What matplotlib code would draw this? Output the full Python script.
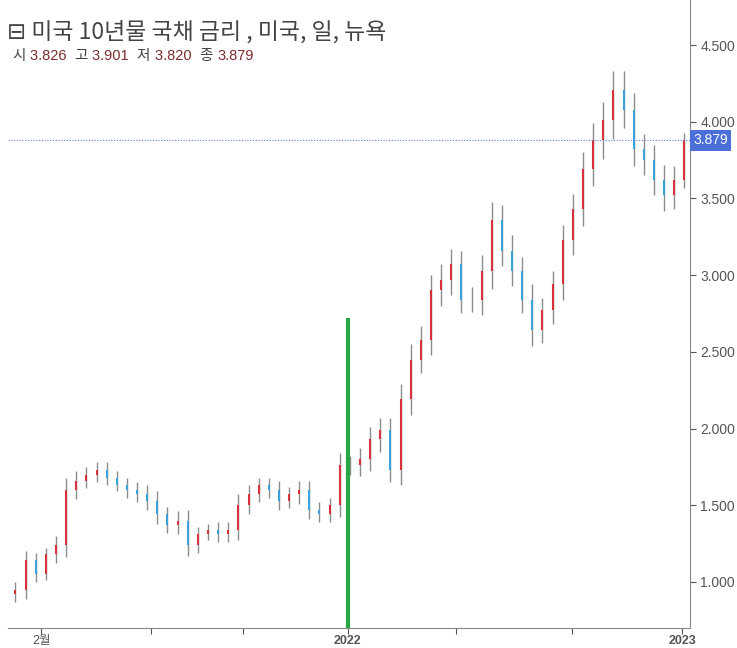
import matplotlib
matplotlib.use("Agg")
import matplotlib.pyplot as plt
import matplotlib.dates as mdates
import numpy as np
import pandas as pd

plt.rcParams['font.family'] = ['Liberation Sans', 'Noto Sans CJK KR']

closes = [0.95,1.14,1.05,1.18,1.24,1.60,1.66,1.70,1.73,1.68,1.63,1.60,1.57,1.53,1.44,1.37,
          1.40,1.24,1.31,1.34,1.31,1.34,1.50,1.57,1.63,1.60,1.53,1.57,1.60,1.47,1.44,1.50,
          1.76,1.76,1.80,1.93,1.99,1.73,2.19,2.45,2.58,2.90,2.97,3.07,2.84,2.84,3.03,3.36,
          3.16,3.03,2.84,2.64,2.77,2.94,3.23,3.43,3.69,3.88,4.01,4.21,4.08,3.82,3.75,3.62,
          3.52,3.62,3.879]
wick = [0.05,0.06,0.05,0.04,0.06,0.08,0.06,0.05,0.05,0.05,0.04,0.05,0.05,0.06,0.06,0.05,
        0.06,0.07,0.05,0.04,0.05,0.05,0.07,0.06,0.05,0.05,0.06,0.05,0.06,0.06,0.05,0.05,
        0.08,0.06,0.07,0.08,0.08,0.08,0.10,0.10,0.09,0.10,0.10,0.10,0.09,0.08,0.10,0.12,
        0.10,0.10,0.09,0.10,0.08,0.09,0.10,0.10,0.11,0.11,0.12,0.12,0.12,0.11,0.10,0.10,
        0.10,0.09,0.05]
start, end = "2021-01-04", "2023-01-03"
tick_dates = ["2021-02-01", "2021-06-01", "2021-09-09", "2022-01-01", "2022-04-29", "2022-09-03", "2023-01-01"]
tick_labels = ["2월", "", "", "2022", "", "", "2023"]
last_price = 3.879

dates = pd.date_range(start, end, periods=len(closes))
x = mdates.date2num(dates)
opens = [closes[0] - 0.03] + closes[:-1]

fig = plt.figure(figsize=(7.37, 6.48), dpi=100)
ax = fig.add_axes([0.011, 0.031, 0.925, 0.969])
for xi, o, c, w in zip(x, opens, closes, wick):
    lo, hi = min(o, c) - w, max(o, c) + w
    ax.vlines(xi, lo, hi, color="#8c8c8c", lw=1)
    ax.vlines(xi, o, c, color="#d9313b" if c >= o else "#3ba3db", lw=1.5)

ax.axhline(last_price, color="#5b7fd4", lw=0.8, ls=(0, (1, 1.5)))
ax.vlines(mdates.date2num(pd.Timestamp("2022-01-01")), 0.70, 2.72, color="#27a844", lw=3)

ax.set_ylim(0.70, 4.794)
ax.set_xlim(mdates.date2num(pd.Timestamp("2020-12-27")), mdates.date2num(pd.Timestamp("2023-01-09")))
ax.yaxis.tick_right()
ax.set_yticks([1.0, 1.5, 2.0, 2.5, 3.0, 3.5, 4.0, 4.5])
ax.set_yticklabels([f"{v:.3f}" for v in [1.0, 1.5, 2.0, 2.5, 3.0, 3.5, 4.0, 4.5]])
ax.set_xticks(mdates.date2num(pd.to_datetime(tick_dates)))
ax.set_xticklabels(tick_labels)
for lab in ax.get_xticklabels():
    if lab.get_text() in ("2022", "2023"):
        lab.set_fontweight("bold")
ax.tick_params(colors="#555555", labelsize=10, length=4)
ax.tick_params(axis="x", pad=1, labelsize=9)
for s in ["top", "left"]:
    ax.spines[s].set_visible(False)
for s in ["right", "bottom"]:
    ax.spines[s].set_color("#888888")

ax.text(1.005, last_price, "3.879", transform=ax.get_yaxis_transform(), va="center", ha="left",
        color="white", fontsize=10, bbox=dict(boxstyle="square,pad=0.25", fc="#4a6fd8", ec="none"))

fig.text(0.010, 0.951, "⊟ 미국 10년물 국채 금리 , 미국, 일, 뉴욕", fontsize=16.5, color="#444444", va="center",
         family=['Noto Sans CJK KR', 'DejaVu Sans'])
xs = 0.017
parts = [("시 ", "#444444"), ("3.826  ", "#7a2d2d"), ("고 ", "#444444"), ("3.901  ", "#7a2d2d"),
         ("저 ", "#444444"), ("3.820  ", "#7a2d2d"), ("종 ", "#444444"), ("3.879", "#7a2d2d")]
r = fig.canvas.get_renderer()
for t, c in parts:
    tx = fig.text(xs, 0.913, t, fontsize=10.5, color=c, va="center")
    bb = tx.get_window_extent(renderer=r)
    xs += bb.width / fig.bbox.width

fig.savefig("out.png", dpi=100)
